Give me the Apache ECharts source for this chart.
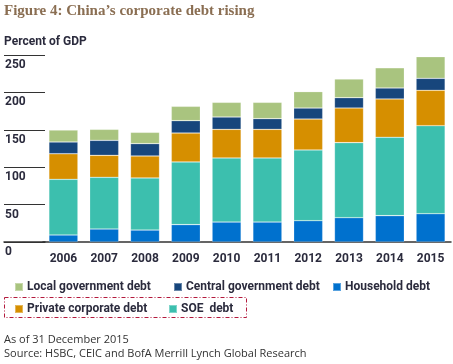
<!DOCTYPE html>
<html><head><meta charset="utf-8">
<script src="https://cdn.jsdelivr.net/npm/echarts@6/dist/echarts.min.js"></script>
<style>html,body{margin:0;padding:0;background:#fff}#c{width:453px;height:364px}</style>
</head><body><div id="c"></div>
<script>
const years = ['2006','2007','2008','2009','2010','2011','2012','2013','2014','2015'];
const household = [9.4, 17.4, 16.0, 23.2, 26.7, 26.7, 28.5, 32.5, 35.2, 37.8];
const soe       = [74.4, 69.1, 69.6, 83.8, 85.6, 85.6, 94.5, 100.3, 104.8, 117.7];
const privateCorp = [34.2, 29.4, 29.4, 38.7, 38.3, 38.3, 41.4, 46.3, 51.2, 47.3];
const centralGov  = [15.7, 20.0, 16.5, 16.5, 16.5, 14.3, 14.7, 13.8, 14.7, 16.0];
const localGov    = [16.0, 14.7, 15.1, 19.2, 19.6, 21.8, 21.9, 25.0, 27.0, 28.9];
const yTicks = [0, 50, 100, 150, 200, 250];

const names = {
  local: 'Local government debt',
  central: 'Central government debt',
  household: 'Household debt',
  priv: 'Private corporate debt',
  soe: 'SOE  debt'
};
const colors = {
  local: '#a9c47f', central: '#17467c', household: '#0071ce', priv: '#d68f00', soe: '#3cbfae'
};
const textColor = '#2b2b3d';

const chart = echarts.init(document.getElementById('c'), null, {renderer: 'canvas'});

function bar(key, data) {
  return {
    name: names[key], type: 'bar', stack: 'debt', data: data,
    xAxisIndex: 1, yAxisIndex: 1, barWidth: 29,
    itemStyle: {color: colors[key], borderColor: 'rgba(255,255,255,0.35)', borderWidth: 0.6},
    emphasis: {disabled: true}
  };
}
function legendAt(key, left, top) {
  return {
    data: [names[key]], left: left, top: top, icon: 'rect',
    itemWidth: 8, itemHeight: 8, itemGap: 0, padding: 0,
    selectedMode: false,
    textStyle: {fontFamily: 'Roboto', fontWeight: 'bold', fontSize: 12, color: textColor, padding: [0,0,0,-1]}
  };
}

chart.setOption({
  animation: false,
  grid: [
    {left: 4, width: 41, top: 55, bottom: 122},
    {left: 43, right: 2, top: 55, bottom: 122}
  ],
  xAxis: [
    {gridIndex: 0, type: 'value', min: 0, max: 1,
      axisLine: {show: true, lineStyle: {color: '#333', width: 1.5}},
      axisTick: {show: false}, axisLabel: {show: false}, splitLine: {show: false}},
    {gridIndex: 1, type: 'category', data: years,
      axisLine: {show: true, lineStyle: {color: '#333', width: 1.5}},
      axisTick: {show: false},
      axisLabel: {margin: 11, fontFamily: 'Roboto', fontWeight: 'bold', fontSize: 12, color: textColor}}
  ],
  yAxis: [
    {gridIndex: 0, type: 'value', min: 0, max: 250, interval: 50,
      axisLine: {show: false}, axisTick: {show: false},
      splitLine: {show: true, lineStyle: {color: '#333', width: 1}},
      axisLabel: {inside: true, margin: 1, align: 'left', verticalAlign: 'top', padding: [4,0,0,0],
        fontFamily: 'Roboto', fontWeight: 'bold', fontSize: 12, color: textColor,
        formatter: v => yTicks.includes(v) ? String(v) : ''}},
    {gridIndex: 1, type: 'value', min: 0, max: 250, interval: 50,
      axisLine: {show: false}, axisTick: {show: false}, axisLabel: {show: false}, splitLine: {show: false}}
  ],
  legend: [
    legendAt('local', 14, 281),
    legendAt('central', 173, 281),
    legendAt('household', 332, 281),
    legendAt('priv', 14, 303),
    legendAt('soe', 168, 303)
  ],
  graphic: [
    {type: 'text', left: 4, top: 4, style: {text: 'Figure 4: China\u2019s corporate debt rising',
      font: 'bold 15px "Liberation Serif"', fill: '#8a6e52'}},
    {type: 'text', left: 4, top: 36, style: {text: 'Percent of GDP',
      font: 'bold 12px Roboto', fill: textColor}},
    {type: 'rect', shape: {x: 4.5, y: 297.5, width: 242, height: 20},
      style: {fill: 'none', stroke: '#b3193c', lineWidth: 1, lineDash: [4, 2, 1, 2]}},
    {type: 'text', left: 4, top: 334, style: {text: 'As of 31 December 2015',
      font: '11px "Open Sans"', fill: '#333'}},
    {type: 'text', left: 4, top: 348, style: {text: 'Source: HSBC, CEIC and BofA Merrill Lynch Global Research',
      font: '11px "Open Sans"', fill: '#333'}}
  ],
  series: [
    bar('household', household),
    bar('soe', soe),
    bar('priv', privateCorp),
    bar('central', centralGov),
    bar('local', localGov)
  ]
});
</script></body></html>
